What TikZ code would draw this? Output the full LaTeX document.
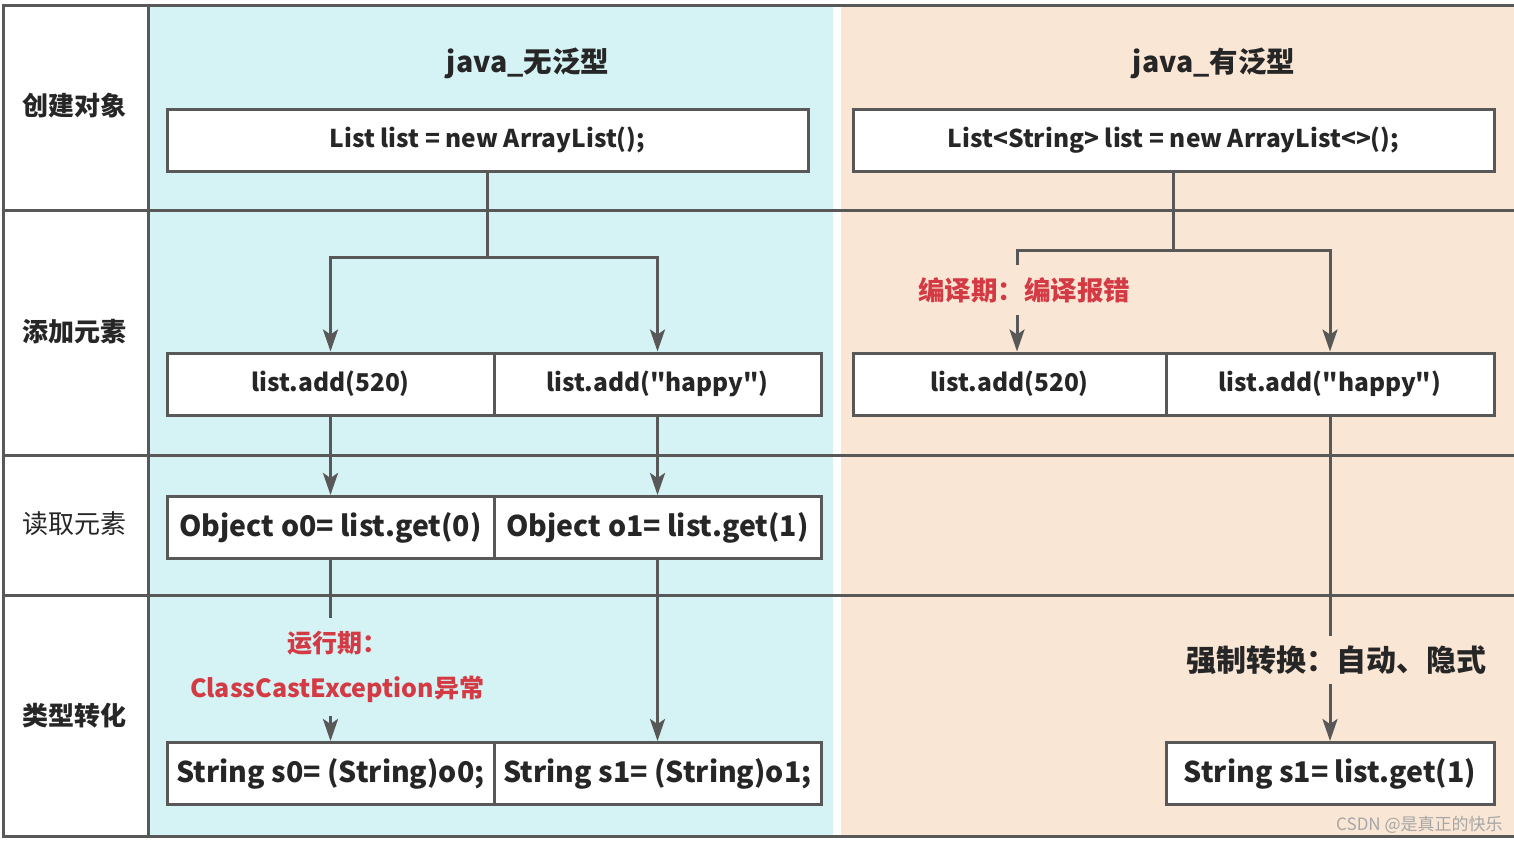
\documentclass[tikz,border=0pt]{standalone}
\usepackage{fontspec}
\setmainfont{Noto Sans CJK SC}
\usetikzlibrary{positioning, arrows.meta}

\definecolor{linegray}{RGB}{88,88,88}
\definecolor{bgblue}{RGB}{213,242,244}
\definecolor{bgpeach}{RGB}{250,230,213}
\definecolor{errred}{RGB}{212,58,68}
\definecolor{txtdark}{RGB}{38,38,38}

\begin{document}
\begin{tikzpicture}[x=1pt, y=-1pt,
    grid/.style={draw=linegray, line width=3pt, line cap=rect},
    codebox/.style={draw=linegray, line width=3pt, fill=white, minimum height=62pt,
      inner sep=0pt, text=txtdark, font=\bfseries\fontsize{24.5}{28}\selectfont},
    bigcode/.style={codebox, font=\bfseries\fontsize{28.5}{32}\selectfont},
    link/.style={draw=linegray, line width=3pt},
    arr/.style={link, -{Stealth[length=22pt, width=15pt, inset=5pt]}},
    note/.style={text=errred, inner xsep=0pt, font=\bfseries\fontsize{25}{45}\selectfont},
    rowlabel/.style={text=txtdark, font=\bfseries\fontsize{26}{30}\selectfont},
    head/.style={text=txtdark, font=\bfseries\fontsize{28.5}{34}\selectfont}]
    \useasboundingbox (0,0) rectangle (1514,844);

    % Background of the two columns
    \fill[bgblue] (148,7) rectangle (833,836);
    \fill[bgpeach] (841,7) rectangle (1514,836);

    % Row lines of the table
    \foreach \y in {5.5,210,455,595,836} {
      \draw[grid] (3,\y) -- (1514,\y);
    }
    \draw[grid] (3,5.5) -- (3,836);
    \draw[grid] (148,5.5) -- (148,836);

    % Row labels
    \foreach \y/\t in {106/创建对象, 332/添加元素, 716/类型转化} {
      \node[rowlabel] (row\y) at (74,\y) {\t};
    }
    \node[rowlabel, font=\fontsize{26}{30}\selectfont] (row524) at (74,524) {读取元素};

    % Column heads
    \node[head] (hnone) at (528,63) {java\_无泛型};
    \node[head] (hgen) at (1214,63) {java\_有泛型};

    % Boxes, left column
    \node[codebox, minimum width=641pt] (l1) at (487.5,140) {List list = new ArrayList();};
    \node[codebox, minimum width=327pt] (a1) at (330.5,384) {list.add(520)};
    \node[codebox, minimum width=327pt] (a2) at (657.5,384) {list.add(\textquotedbl happy\textquotedbl)};
    \node[bigcode, minimum width=327pt] (o0) at (330.5,527.5) {Object o0= list.get(0)};
    \node[bigcode, minimum width=327pt] (o1) at (657.5,527.5) {Object o1= list.get(1)};
    \node[bigcode, minimum width=327pt] (s0) at (330.5,773.5) {String s0= (String)o0;};
    \node[bigcode, minimum width=327pt] (s1) at (657.5,773.5) {String s1= (String)o1;};

    % Boxes, right column
    \node[codebox, minimum width=641pt] (r1) at (1173.5,140) {List<String> list = new ArrayList<>();};
    \node[codebox, minimum width=313pt] (b1) at (1009.5,384) {list.add(520)};
    \node[codebox, minimum width=328pt] (b2) at (1330,384) {list.add(\textquotedbl happy\textquotedbl)};
    \node[bigcode, minimum width=328pt] (t1) at (1330,773.5) {String s1= list.get(1)};

    % Connectors, left
    \draw[link] (l1.south) -- ++(0,85) coordinate (lj);
    \draw[arr] (lj) -| (a1.north);
    \draw[arr] (lj) -| (a2.north);
    \draw[arr] (a1.south) -- (o0.north);
    \draw[arr] (a2.south) -- (o1.north);
    \draw[arr] (o0.south) -- (s0.north);
    \draw[arr] (o1.south) -- (s1.north);
    \node[note, fill=bgblue, align=center, inner ysep=13pt] (runerr) at (337,667) {运行期：\\ClassCastException异常};

    % Connectors, right
    \draw[link] (r1.south) -- ++(0,78) coordinate (rj);
    \draw[arr] (rj) -| ([xshift=7.5pt]b1.north);
    \draw[arr] (rj) -| (b2.north);
    \draw[arr] (b2.south) -- (t1.north);
    \node[note, fill=bgpeach, inner ysep=12pt, font=\bfseries\fontsize{26.5}{30}\selectfont] (comperr) at (1024,290) {编译期：编译报错};
    \node[head, fill=bgpeach, inner xsep=0pt, inner ysep=10pt, font=\bfseries\fontsize{30}{36}\selectfont] (autocast) at (1336,660) {强制转换：自动、隐式};

    % Watermark
    \node[anchor=base west, inner sep=0pt, text=black!35, font=\fontsize{17}{20}\selectfont] (mark) at (1336,830) {CSDN @是真正的快乐};
\end{tikzpicture}
\end{document}
